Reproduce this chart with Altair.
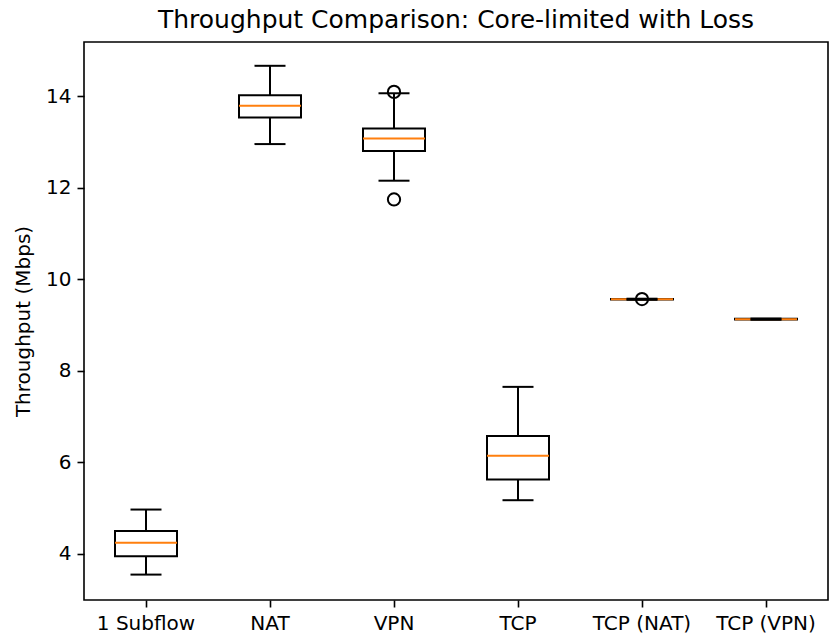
import altair as alt
import pandas as pd

categories = ["1 Subflow", "NAT", "VPN", "TCP", "TCP (NAT)", "TCP (VPN)"]
whisker_low = [3.545, 12.95, 12.15, 5.17, 9.548, 9.112]
q1 = [3.945, 13.53, 12.80, 5.62, 9.552, 9.118]
median = [4.24, 13.79, 13.07, 6.14, 9.560, 9.125]
q3 = [4.50, 14.015, 13.29, 6.57, 9.566, 9.132]
whisker_high = [4.966, 14.66, 14.06, 7.646, 9.572, 9.138]

outlier_cat = ["VPN", "VPN", "TCP (NAT)"]
outlier_val = [14.09, 11.74, 9.565]

df = pd.DataFrame({
    "cat": categories, "lo": whisker_low, "q1": q1, "med": median,
    "q3": q3, "hi": whisker_high,
})
odf = pd.DataFrame({"cat": outlier_cat, "val": outlier_val})

FONT = "DejaVu Sans"
W = 744
H = 558
step = W / len(categories)
LW = 2

xenc = alt.X("cat:N", sort=categories, title=None,
             scale=alt.Scale(paddingInner=0, paddingOuter=0),
             axis=alt.Axis(labelAngle=0, labelFontSize=20, labelFont=FONT,
                           labelColor="black", tickColor="black", tickSize=7,
                           tickWidth=1.6, labelPadding=6, domain=False,
                           grid=False))
yscale = alt.Scale(domain=[2.99, 15.18], nice=False, zero=False)
yaxis = alt.Axis(values=[4, 6, 8, 10, 12, 14], labelFontSize=20, labelFont=FONT,
                 labelColor="black", tickColor="black", tickSize=7,
                 tickWidth=1.6, labelPadding=6, domain=False, grid=False,
                 title="Throughput (Mbps)", titleFontSize=20, titleFont=FONT,
                 titleFontWeight="normal", titleColor="black", titlePadding=12)

base = alt.Chart(df)

whisk = base.mark_rule(color="black", strokeWidth=LW).encode(
    x=xenc, y=alt.Y("lo:Q", scale=yscale, axis=yaxis), y2="hi:Q")

box = base.mark_bar(width=alt.RelativeBandSize(0.5), fill="white",
                    stroke="black", strokeWidth=LW).encode(
    x=alt.X("cat:N", sort=categories), y=alt.Y("q1:Q"), y2="q3:Q")

cap_lo = base.mark_tick(color="black", thickness=LW, size=step * 0.25,
                        opacity=1).encode(
    x=alt.X("cat:N", sort=categories), y=alt.Y("lo:Q"))
cap_hi = base.mark_tick(color="black", thickness=LW, size=step * 0.25,
                        opacity=1).encode(
    x=alt.X("cat:N", sort=categories), y=alt.Y("hi:Q"))
med = base.mark_tick(color="#ff7f0e", thickness=LW, size=step * 0.5,
                     opacity=1).encode(
    x=alt.X("cat:N", sort=categories), y=alt.Y("med:Q"))

outl = alt.Chart(odf).mark_point(shape="circle", size=150, filled=False,
                                 color="black", strokeWidth=LW,
                                 opacity=1).encode(
    x=alt.X("cat:N", sort=categories), y=alt.Y("val:Q"))

chart = alt.layer(whisk, box, med, cap_lo, cap_hi, outl).properties(
    width=W, height=H,
    background="white",
    title=alt.TitleParams("Throughput Comparison: Core-limited with Loss",
                          fontSize=25, font=FONT, fontWeight="normal",
                          color="black", anchor="middle", baseline="alphabetic",
                          offset=15, dy=26),
    autosize=alt.AutoSizeParams(type="none"),
    padding={"left": 84, "top": 42, "right": 1, "bottom": 39},
).configure_view(stroke="black", strokeWidth=1.6)

chart.save("out.html", embed_options={"renderer": "svg", "actions": False})
